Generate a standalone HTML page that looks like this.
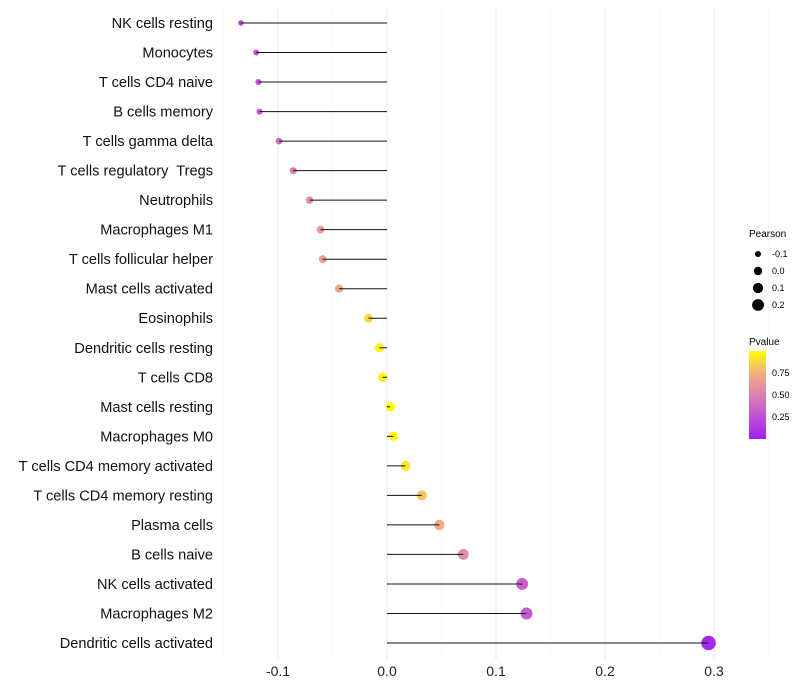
<!DOCTYPE html>
<html><head><meta charset="utf-8"><style>
body{margin:0;background:#fff;}
svg{display:block;font-family:"Liberation Sans",sans-serif;}
text{white-space:pre;}
</style></head><body>
<svg id="chart" width="800" height="700">
<defs><linearGradient id="pg" x1="0" y1="1" x2="0" y2="0">
<stop offset="0" stop-color="#a020f0"/><stop offset="0.25" stop-color="#c050d8"/><stop offset="0.5" stop-color="#dc80b0"/><stop offset="0.75" stop-color="#f0b080"/><stop offset="1" stop-color="#ffff00"/>
</linearGradient></defs>
<g id="grid"></g>
<g id="marks"></g>
<g id="ylabels"></g>
<g id="xlabels"></g>
<g font-size="9">
<text x="749" y="237" font-size="10" fill="#000">Pearson</text>
<g id="sizeleg"></g>
</g>
<g font-size="9">
<text x="749" y="345" font-size="10" fill="#000">Pvalue</text>
<rect x="749" y="351" width="17" height="88" fill="url(#pg)"/>
<text x="772" y="376">0.75</text>
<text x="772" y="398">0.50</text>
<text x="772" y="420">0.25</text>
</g>
</svg>
<script>
const categories=["NK cells resting","Monocytes","T cells CD4 naive","B cells memory","T cells gamma delta","T cells regulatory  Tregs","Neutrophils","Macrophages M1","T cells follicular helper","Mast cells activated","Eosinophils","Dendritic cells resting","T cells CD8","Mast cells resting","Macrophages M0","T cells CD4 memory activated","T cells CD4 memory resting","Plasma cells","B cells naive","NK cells activated","Macrophages M2","Dendritic cells activated"];
const pearson=[-0.134,-0.120,-0.118,-0.117,-0.099,-0.086,-0.071,-0.061,-0.059,-0.044,-0.017,-0.007,-0.004,0.003,0.006,0.017,0.032,0.048,0.070,0.124,0.128,0.295];
const pvalues=[0.20,0.28,0.28,0.30,0.40,0.48,0.58,0.64,0.66,0.72,0.88,0.95,0.97,0.99,0.99,0.92,0.82,0.72,0.58,0.33,0.31,0.05];
const xTicks=[-0.1,0,0.1,0.2,0.3];
const xTickLabels=["-0.1","0.0","0.1","0.2","0.3"];
const sizeLegend=[-0.1,0,0.1,0.2];
const sizeLegendLabels=["-0.1","0.0","0.1","0.2"];
const NS="http://www.w3.org/2000/svg";
const x=v=>387+v*1090;
const y=i=>23+i*(620/21);
const r=v=>Math.sqrt(Math.max(4,21.8+107*v));
const stops=[[0,[160,32,240]],[0.25,[192,80,216]],[0.5,[220,128,176]],[0.75,[240,176,128]],[1,[255,255,0]]];
function col(p){p=Math.max(0,Math.min(1,p));for(let k=1;k<stops.length;k++){if(p<=stops[k][0]){const a=stops[k-1],b=stops[k],t=(p-a[0])/(b[0]-a[0]);return "rgb("+a[1].map((c,j)=>Math.round(c+(b[1][j]-c)*t)).join(",")+")";}}return "rgb(255,255,0)";}
function mk(tag,at,parent){const e=document.createElementNS(NS,tag);for(const k in at)e.setAttribute(k,at[k]);parent.appendChild(e);return e;}
const grid=document.getElementById('grid'),marks=document.getElementById('marks'),yl=document.getElementById('ylabels'),xl=document.getElementById('xlabels');
for(let v=-0.15;v<=0.351;v+=0.05){const major=Math.abs(Math.round(v*10)-v*10)<1e-6;
const g=mk('line',{x1:x(v),x2:x(v),y1:8,y2:660,stroke:major?'#ebebeb':'#f5f5f5','stroke-width':major?1.1:0.6},grid);

}
xTicks.forEach((v,i)=>{const t=mk('text',{x:x(v),y:676,'text-anchor':'middle','font-size':14,fill:'#222'},xl);t.textContent=xTickLabels[i];

});
categories.forEach((c,i)=>{
const cy=y(i);
const t=mk('text',{x:213,y:cy+5,'text-anchor':'end','font-size':14.6,fill:'#111'},yl);t.textContent=c;


const d=mk('circle',{cx:x(pearson[i]),cy:cy,r:r(pearson[i]),fill:col(pvalues[i])},marks);


const l=mk('line',{x1:x(0),x2:x(pearson[i]),y1:cy,y2:cy,stroke:'#111','stroke-width':1},marks);


});
const sl=document.getElementById('sizeleg');
sizeLegend.forEach((v,i)=>{const cy=254+i*17;
const c=mk('circle',{cx:758,cy:cy,r:r(v)*0.9,fill:'#000'},sl);


const t=mk('text',{x:772,y:cy+3,fill:'#000'},sl);t.textContent=sizeLegendLabels[i];

});
</script>
</body></html>
